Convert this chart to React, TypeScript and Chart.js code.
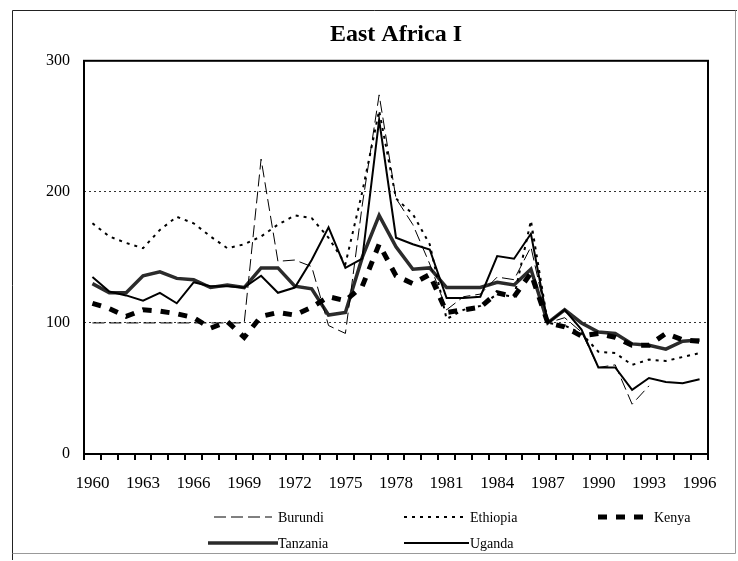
import React, { useEffect, useRef } from 'react';
import { Chart, registerables } from 'chart.js';

Chart.register(...registerables);

const years = [
  '1960', '1961', '1962', '1963', '1964', '1965', '1966', '1967', '1968', '1969',
  '1970', '1971', '1972', '1973', '1974', '1975', '1976', '1977', '1978', '1979',
  '1980', '1981', '1982', '1983', '1984', '1985', '1986', '1987', '1988', '1989',
  '1990', '1991', '1992', '1993', '1994', '1995', '1996',
];

const burundi = [
  100, 100, 100, 100, 100, 100, 100, 100, 100, 100,
  225, 147, 148, 143, 98, 92, 190, 274, 195, 175,
  145, 110, 120, 122, 135, 133, 158, 100, 104, 93,
  66, 68, 38, 52, null, null, null,
];
const ethiopia = [
  176, 166, 161, 157, 171, 181, 176, 166, 157, 160,
  166, 175, 182, 180, 165, 145, 200, 262, 195, 183,
  160, 103, 110, 113, 122, 120, 178, 100, 98, 92,
  78, 77, 68, 72, 71, 74, 77,
];
const kenya = [
  115, 111, 105, 110, 109, 107, 104, 96, 101, 89,
  105, 108, 106, 112, 120, 117, 128, 160, 136, 130,
  137, 108, 110, 112, 123, 120, 138, 100, 97, 90,
  92, 89, 83, 83, 92, 87, 86,
];
const tanzania = [
  130, 123, 123, 136, 139, 134, 133, 127, 129, 127,
  142, 142, 128, 126, 106, 108, 150, 182, 158, 141,
  142, 127, 127, 127, 131, 129, 141, 100, 110, 100,
  93, 92, 84, 83, 80, 86, 87,
];
const uganda = [
  135, 124, 121, 117, 123, 115, 131, 128, 128, 127,
  136, 123, 127, 148, 173, 142, 149, 255, 165, 160,
  156, 119, 119, 120, 151, 149, 168, 100, 110, 95,
  66, 66, 49, 58, 55, 54, 57,
];

const yTicks = [0, 100, 200, 300];
const titleText = 'East Africa I';

const SERIF = "'Liberation Serif', 'Times New Roman', serif";

type LegendItem = {
  label: string;
  color: string;
  width: number;
  dash: number[];
  x0: number;
  x1: number;
  tx: number;
  y: number;
};

const legendItems: LegendItem[] = [
  { label: 'Burundi', color: '#000', width: 1, dash: [12, 5], x0: 214, x1: 272, tx: 278, y: 517 },
  { label: 'Ethiopia', color: '#000', width: 2, dash: [3, 5], x0: 404, x1: 466, tx: 470, y: 517 },
  { label: 'Kenya', color: '#000', width: 5, dash: [9, 9], x0: 598, x1: 646, tx: 654, y: 517 },
  { label: 'Tanzania', color: '#2b2b2b', width: 3.5, dash: [], x0: 208, x1: 278, tx: 278, y: 543 },
  { label: 'Uganda', color: '#000', width: 2, dash: [], x0: 404, x1: 469, tx: 470, y: 543 },
];

const decorPlugin = {
  id: 'decor',
  afterDraw(chart: any) {
    const { ctx, chartArea } = chart;
    ctx.save();
    // plot frame
    ctx.strokeStyle = '#000';
    ctx.lineWidth = 2;
    ctx.setLineDash([]);
    ctx.strokeRect(chartArea.left, chartArea.top, chartArea.right - chartArea.left, chartArea.bottom - chartArea.top);
    // outer frame
    ctx.lineWidth = 1;
    ctx.strokeStyle = '#222';
    ctx.beginPath();
    ctx.moveTo(12.5, 560);
    ctx.lineTo(12.5, 10.5);
    ctx.lineTo(737, 10.5);
    ctx.stroke();
    ctx.strokeStyle = '#999';
    ctx.beginPath();
    ctx.moveTo(735.5, 10.5);
    ctx.lineTo(735.5, 553.5);
    ctx.lineTo(12.5, 553.5);
    ctx.stroke();
    // legend
    ctx.font = `14px ${SERIF}`;
    ctx.textBaseline = 'middle';
    ctx.fillStyle = '#000';
    for (const it of legendItems) {
      ctx.strokeStyle = it.color;
      ctx.lineWidth = it.width;
      ctx.setLineDash(it.dash);
      ctx.lineCap = 'butt';
      ctx.beginPath();
      ctx.moveTo(it.x0, it.y);
      ctx.lineTo(it.x1, it.y);
      ctx.stroke();
      ctx.setLineDash([]);
      ctx.fillText(it.label, it.tx, it.y + 1);
    }
    ctx.restore();
  },
};

export default function App() {
  const ref = useRef<HTMLCanvasElement>(null);
  useEffect(() => {
    document.body.style.margin = '0';
    const canvas = ref.current;
    if (!canvas) return;
    const chart = new Chart(canvas, {
      type: 'line',
      data: {
        labels: years,
        datasets: [
          { label: 'Uganda', data: uganda, borderColor: '#000', borderWidth: 2, pointRadius: 0, fill: false, tension: 0 },
          { label: 'Burundi', data: burundi, borderColor: '#000', borderWidth: 1, borderDash: [12, 5], pointRadius: 0, fill: false, tension: 0 },
          { label: 'Ethiopia', data: ethiopia, borderColor: '#000', borderWidth: 2, borderDash: [3, 5], pointRadius: 0, fill: false, tension: 0 },
          { label: 'Kenya', data: kenya, borderColor: '#000', borderWidth: 5, borderDash: [9, 9], pointRadius: 0, fill: false, tension: 0 },
          { label: 'Tanzania', data: tanzania, borderColor: '#2b2b2b', borderWidth: 3.5, pointRadius: 0, fill: false, tension: 0 },
        ],
      },
      options: {
        responsive: false,
        animation: false,
        devicePixelRatio: 1,
        layout: { padding: { top: 14, left: 0, right: 30, bottom: 0 } },
        plugins: {
          legend: { display: false },
          tooltip: { enabled: false },
          title: {
            display: true,
            text: titleText,
            fullSize: false,
            color: '#000',
            font: { family: SERIF, size: 24, weight: 'bold' },
            padding: { top: 6, bottom: 12 },
          },
        },
        scales: {
          x: {
            type: 'category',
            offset: true,
            afterFit: (s: any) => { s.height = 107; },
            grid: {
              offset: true,
              drawOnChartArea: false,
              drawTicks: true,
              tickLength: 6,
              color: '#000',
              lineWidth: 2,
            },
            border: { display: false },
            ticks: {
              autoSkip: false,
              maxRotation: 0,
              minRotation: 0,
              padding: 13,
              color: '#000',
              font: { family: SERIF, size: 17 },
              callback: (_v: any, i: number) => (i % 3 === 0 ? years[i] : ''),
            },
          },
          y: {
            min: 0,
            max: 300,
            afterFit: (s: any) => { s.width = 84; },
            afterBuildTicks: (s: any) => { s.ticks = yTicks.map((v) => ({ value: v })); },
            grid: {
              drawTicks: false,
              color: (c: any) => (c.tick && (c.tick.value === 100 || c.tick.value === 200) ? '#333' : 'rgba(0,0,0,0)'),
              lineWidth: 1,
            },
            border: { display: false, dash: [2, 3] },
            ticks: {
              padding: 14,
              color: '#000',
              font: { family: SERIF, size: 16 },
            },
          },
        },
      },
      plugins: [decorPlugin],
    } as any);
    return () => chart.destroy();
  }, []);
  return (
    <div style={{ position: 'absolute', left: 0, top: 0, width: 738, height: 561, background: '#fff' }}>
      <canvas ref={ref} width={738} height={561} style={{ width: 738, height: 561, display: 'block' }} />
    </div>
  );
}
